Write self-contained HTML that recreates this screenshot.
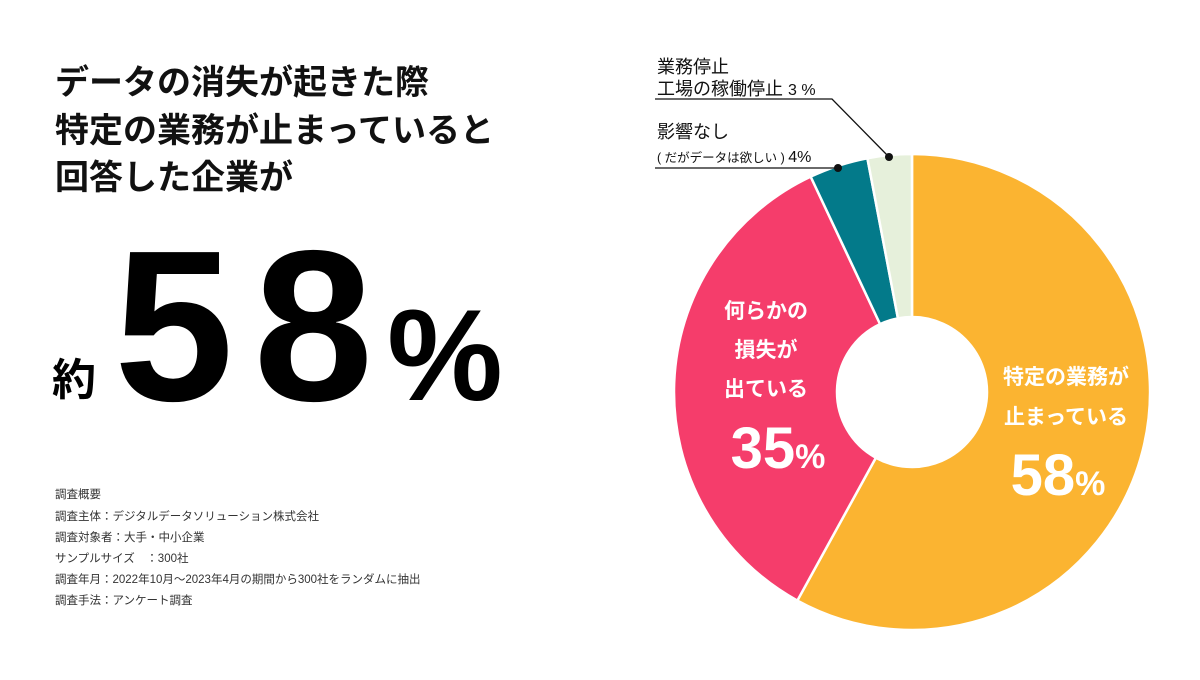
<!DOCTYPE html>
<html><head><meta charset="utf-8"><style>
body{margin:0;width:1200px;height:675px;background:#fff;overflow:hidden;font-family:"Liberation Sans","Noto Sans CJK JP",sans-serif;}
</style></head><body>
<svg width="1200" height="675" xmlns="http://www.w3.org/2000/svg" font-family="'Liberation Sans','Noto Sans CJK JP',sans-serif">
<g font-size="34" font-weight="bold" fill="#111">
<text x="55" y="94">データの消失が起きた際</text>
<text x="55" y="142">特定の業務が止まっていると</text>
<text x="55" y="189">回答した企業が</text>
</g>
<text x="52" y="395" font-size="44" font-weight="bold" fill="#000">約</text>
<text x="114" y="400" font-size="215" font-weight="bold" letter-spacing="20" fill="#000">58<tspan font-size="130" dx="-6">%</tspan></text>
<g font-size="11.5" fill="#333">
<text x="55" y="498">調査概要</text>
<text x="55" y="520">調査主体：デジタルデータソリューション株式会社</text>
<text x="55" y="541">調査対象者：大手・中小企業</text>
<text x="55" y="562">サンプルサイズ　：300社</text>
<text x="55" y="583">調査年月：2022年10月〜2023年4月の期間から300社をランダムに抽出</text>
<text x="55" y="604">調査手法：アンケート調査</text>
</g>
<g id="donut"></g>
<g stroke="#111" stroke-width="1.3" fill="none">
<polyline points="655,99 832,99 889,157"/>
<polyline points="655,168 838,168"/>
</g>
<circle cx="889" cy="157" r="4" fill="#111"/>
<circle cx="838" cy="168" r="4" fill="#111"/>
<g fill="#111">
<text x="657" y="73" font-size="18">業務停止</text>
<text x="657" y="95" font-size="18">工場の稼働停止  <tspan font-size="16">3 %</tspan></text>
<text x="657" y="138" font-size="18">影響なし</text>
<text x="657" y="162" font-size="12.5">( だがデータは欲しい )  <tspan font-size="16">4%</tspan></text>
</g>
<g fill="#fff" font-weight="bold" text-anchor="middle">
<text x="766" y="318" font-size="21">何らかの</text>
<text x="766" y="357" font-size="21">損失が</text>
<text x="766" y="396" font-size="21">出ている</text>
<text x="778" y="468" font-size="58">35<tspan font-size="34">%</tspan></text>
</g>
<g fill="#fff" font-weight="bold" text-anchor="middle">
<text x="1066" y="384" font-size="21">特定の業務が</text>
<text x="1066" y="424" font-size="21">止まっている</text>
<text x="1058" y="495" font-size="58">58<tspan font-size="34">%</tspan></text>
</g>
</svg>
<script>
const categories=["特定の業務が止まっている","何らかの損失が出ている","影響なし","業務停止"];
const values=[58,35,4,3];
const colors=["#FBB431","#F53D6B","#037A8A","#E6F0DB"];
const cx=912,cy=392,R=238,r=75;
const g=document.getElementById('donut');
const total=values.reduce((a,b)=>a+b,0);
function pt(a,rad){return [cx+rad*Math.sin(a),cy-rad*Math.cos(a)];}
let a0=0;
values.forEach((v,i)=>{
  const a1=a0+v/total*2*Math.PI;
  const large=(a1-a0)>Math.PI?1:0;
  const [x0,y0]=pt(a0,R),[x1,y1]=pt(a1,R),[x2,y2]=pt(a1,r),[x3,y3]=pt(a0,r);
  const p=document.createElementNS('http://www.w3.org/2000/svg','path');
  p.setAttribute('d',`M${x0},${y0}A${R},${R} 0 ${large} 1 ${x1},${y1}L${x2},${y2}A${r},${r} 0 ${large} 0 ${x3},${y3}Z`);
  p.setAttribute('fill',colors[i]);
  p.setAttribute('stroke','#fff');
  p.setAttribute('stroke-width','2.5');
  
  
  g.appendChild(p);
  a0=a1;
});
</script>
</body></html>
